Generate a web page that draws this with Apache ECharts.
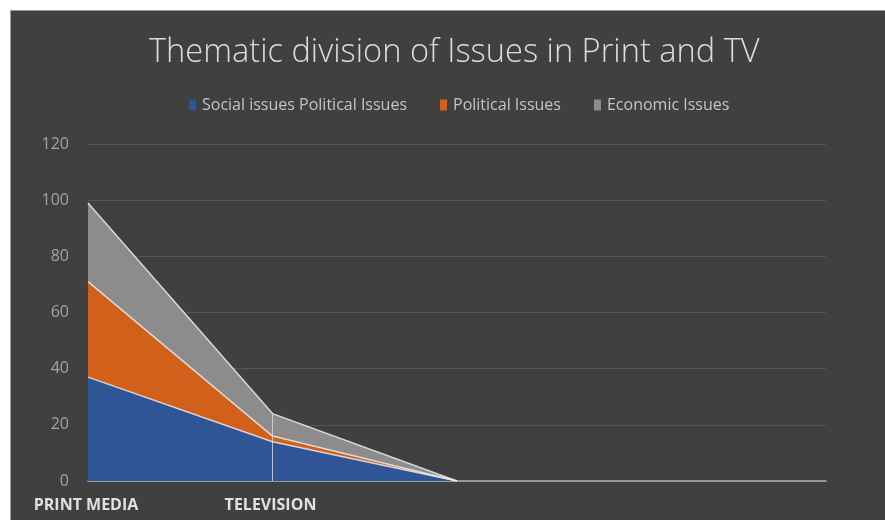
<!DOCTYPE html>
<html>
<head>
<meta charset="utf-8">
<script src="https://cdn.jsdelivr.net/npm/echarts@6/dist/echarts.min.js"></script>
<style>
  html, body { margin: 0; padding: 0; background: #ffffff; }
  #wrap { position: relative; width: 885px; height: 520px; overflow: hidden; }
  #chart {
    position: absolute; left: 10px; top: 10px; width: 875px; height: 510px;
    background: #404040; border-top: 1px solid #9a9a9a; border-left: 1px solid #9a9a9a;
    box-sizing: border-box;
  }
</style>
</head>
<body>
<div id="wrap"><div id="chart"></div></div>
<script>
// Categories along the x axis (only the first two are named)
const categories = ['PRINT MEDIA', 'TELEVISION', '', '', ''];

// Stacked series values
const socialIssues = [37, 14, 0];
const politicalIssues = [34, 2, 0];
const economicIssues = [28, 8, 0];

const seriesNames = ['Social issues Political Issues', 'Political Issues', 'Economic Issues'];
const seriesColors = ['#2f5597', '#d0601a', '#8c8c8c'];

// Value-axis tick settings
const yMin = 0, yMax = 120, yStep = 20;

// Stack total at TELEVISION, used for the drop line
const tvIndex = 1;
const tvTotal = socialIssues[tvIndex] + politicalIssues[tvIndex] + economicIssues[tvIndex];

const chart = echarts.init(document.getElementById('chart'), null, { renderer: 'canvas' });

function areaSeries(name, data, color, extra) {
  return Object.assign({
    name: name,
    type: 'line',
    stack: 'total',
    data: data,
    symbol: 'none',
    color: color,
    lineStyle: { color: 'rgba(235,235,235,0.85)', width: 1.5 },
    areaStyle: { color: color, opacity: 1 },
    emphasis: { disabled: true }
  }, extra || {});
}

chart.setOption({
  backgroundColor: 'transparent',
  animation: false,
  title: {
    text: 'Thematic division of Issues in Print and TV',
    left: 133,
    top: 20,
    textStyle: { color: '#dcdcdc', fontSize: 32.6, fontWeight: 300, fontFamily: 'Open Sans' }
  },
  legend: {
    top: 81,
    left: 173,
    itemWidth: 7,
    itemHeight: 11,
    itemGap: 33,
    icon: 'rect',
    textStyle: { color: '#c4c4c4', fontSize: 16, fontFamily: 'Open Sans', padding: [0, 0, 0, 1] },
    data: seriesNames
  },
  grid: { left: 77, right: 59, top: 133, bottom: 39, containLabel: false },
  xAxis: {
    type: 'category',
    data: categories,
    boundaryGap: false,
    axisLine: { lineStyle: { color: '#b0b0b0', width: 1.5 } },
    axisTick: { show: false },
    axisLabel: {
      color: '#e0e0e0', fontSize: 16, fontWeight: 'bold', fontFamily: 'Open Sans',
      margin: 16, interval: 0, padding: [0, 4, 0, 0]
    },
    splitLine: { show: false }
  },
  yAxis: {
    type: 'value',
    min: yMin, max: yMax, interval: yStep,
    axisLine: { show: false },
    axisTick: { show: false },
    axisLabel: { color: '#a3a3a3', fontSize: 16, fontFamily: 'Open Sans', margin: 19 },
    splitLine: { lineStyle: { color: '#555555', width: 1 } }
  },
  series: [
    areaSeries(seriesNames[0], socialIssues, seriesColors[0]),
    areaSeries(seriesNames[1], politicalIssues, seriesColors[1]),
    areaSeries(seriesNames[2], economicIssues, seriesColors[2], {
      markLine: {
        silent: true,
        symbol: 'none',
        label: { show: false },
        lineStyle: { color: 'rgba(220,220,220,0.8)', width: 1, type: 'solid' },
        data: [[{ coord: [categories[tvIndex], 0] }, { coord: [categories[tvIndex], tvTotal] }]]
      }
    })
  ]
});
</script>
</body>
</html>
